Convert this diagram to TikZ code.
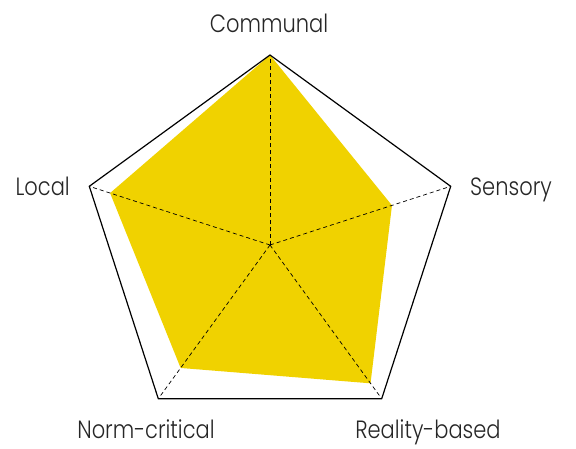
\documentclass[tikz,border=0pt]{standalone}
\usepackage{fontspec}
\setmainfont{Poppins Light}[FakeStretch=0.84]
\usetikzlibrary{calc}
\definecolor{radaryellow}{HTML}{F0D200}
\tikzset{
  axisline/.style={line width=0.7pt, dash pattern=on 4pt off 3pt},
  frameline/.style={line width=1.2pt, line join=miter},
  lbl/.style={inner sep=0pt, text=black!85, font=\fontsize{25}{30}\selectfont},
}
\begin{document}
\begin{tikzpicture}[x=1pt,y=-1pt]
\useasboundingbox (0,0) rectangle (576,448);
% centre and outer vertices
\coordinate (c) at (270,245);
\coordinate (vt) at (270,55);
\coordinate (vr) at (450.7,186.3);
\coordinate (vbr) at (381.7,398.7);
\coordinate (vbl) at (158.3,398.7);
\coordinate (vl) at (89.3,186.3);
% data vertices
\coordinate (dt) at ($(c)!1!(vt)$);
\coordinate (dr) at ($(c)!0.675!(vr)$);
\coordinate (dbr) at ($(c)!0.9!(vbr)$);
\coordinate (dbl) at ($(c)!0.8!(vbl)$);
\coordinate (dl) at ($(c)!0.885!(vl)$);
\fill[radaryellow] (dt) -- (dr) -- (dbr) -- (dbl) -- (dl) -- cycle;
\draw[frameline] (vt) -- (vr) -- (vbr) -- (vbl) -- (vl) -- cycle;
\foreach \v in {vt,vr,vbr,vbl,vl} \draw[axisline] (c) -- (\v);
\node[lbl, anchor=base] (ncom) at (269,32) {Communal};
\node[lbl, anchor=base east] (nloc) at (70,195) {Local};
\node[lbl, anchor=base west] (nsen) at (470,195) {Sensory};
\node[lbl, anchor=base] (nnorm) at (146,438) {Norm-critical};
\node[lbl, anchor=base] (nreal) at (428,438) {Reality-based};
\end{tikzpicture}
\end{document}
